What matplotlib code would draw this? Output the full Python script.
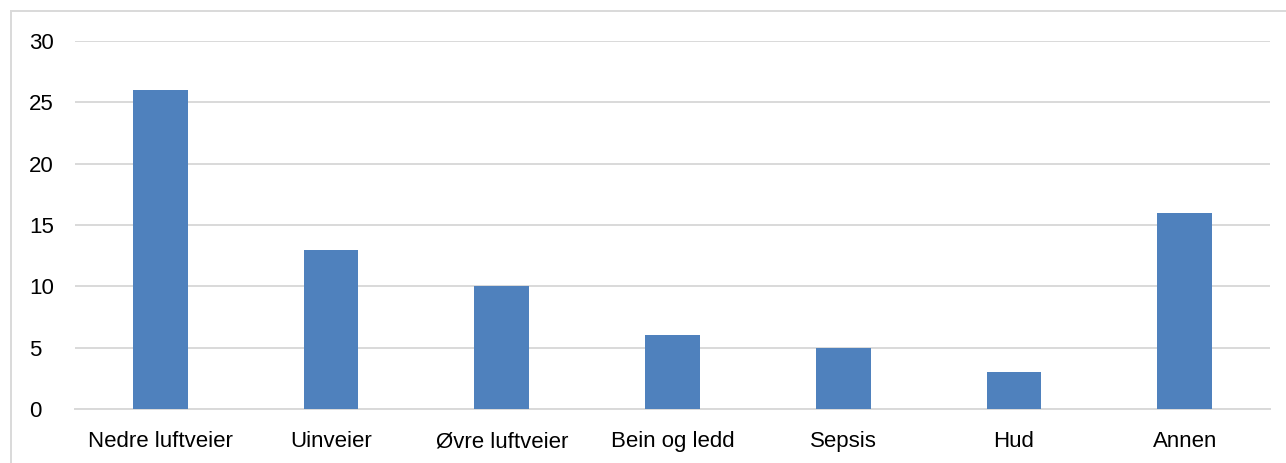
import matplotlib
matplotlib.use("Agg")
import matplotlib.pyplot as plt
from matplotlib.patches import Rectangle

categories = ["Nedre luftveier", "Uinveier", "Øvre luftveier", "Bein og ledd", "Sepsis", "Hud", "Annen"]
values = [26, 13, 10, 6, 5, 3, 16]
yticks = [0, 5, 10, 15, 20, 25, 30]

plt.rcParams['font.family'] = ['Liberation Sans', 'DejaVu Sans']

fig = plt.figure(figsize=(12.86, 4.63), dpi=100)
ax = fig.add_axes([75 / 1286, 1 - 409 / 463, (1270 - 75) / 1286, (409 - 41) / 463])

# chart border (only top and left fall inside the picture)
fig.patches.append(Rectangle((11 / 1286, -0.5), 2.0, 1.5 - 11 / 463, transform=fig.transFigure,
                             fill=False, edgecolor="#d9d9d9", linewidth=1.4))

x = range(len(categories))
ax.bar(x, values, width=0.32, color="#4f81bd", zorder=3)

ax.set_xlim(-0.5, len(categories) - 0.5)
ax.set_ylim(0, 30)
ax.set_yticks(yticks)
ax.set_xticks(list(x))
ax.set_xticklabels(categories)
ax.yaxis.grid(True, color="#d9d9d9", linewidth=1.4, zorder=0)
for s in ["top", "right", "left"]:
    ax.spines[s].set_visible(False)
ax.spines["bottom"].set_color("#d9d9d9")
ax.spines["bottom"].set_linewidth(1.4)
ax.tick_params(axis="both", length=0, labelsize=16, colors="black")
ax.tick_params(axis="x", pad=27.4)
ax.tick_params(axis="y", pad=33)
for lab in ax.get_yticklabels():
    lab.set_horizontalalignment("left")
for lab in ax.get_xticklabels():
    lab.set_verticalalignment("baseline")

fig.savefig("out.png", dpi=100)
